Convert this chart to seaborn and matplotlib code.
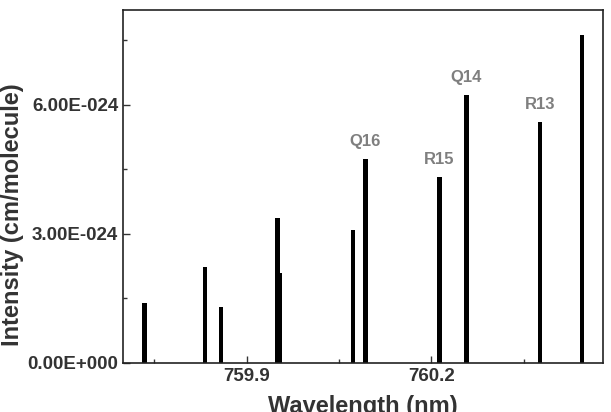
import numpy as np
import pandas as pd
import matplotlib
matplotlib.use("Agg")
import matplotlib.pyplot as plt
from matplotlib.ticker import FuncFormatter, MultipleLocator
import seaborn as sns

# ──────────────────────────────
# Data
# ──────────────────────────────
wavelength = [759.734, 759.832, 759.858, 759.950, 759.954, 760.073,
              760.093, 760.213, 760.257, 760.377, 760.445]
intensity = [1.40e-24, 2.23e-24, 1.30e-24, 3.37e-24, 2.09e-24, 3.09e-24,
             4.74e-24, 4.33e-24, 6.23e-24, 5.61e-24, 7.63e-24]
line_labels = ["", "", "", "", "", "", "Q16", "R15", "Q14", "R13", ""]

df = pd.DataFrame({"wavelength": wavelength, "intensity": intensity,
                   "label": line_labels})

sns.set_theme(style="ticks")
plt.rcParams["font.family"] = ["Liberation Sans", "DejaVu Sans"]
plt.rcParams["font.weight"] = "bold"

fig = plt.figure(figsize=(6.11, 4.12), dpi=100)
ax = fig.add_axes([0.2013, 0.119, 0.7857, 0.857])

# bar width ~ 4.5 px, relative to the smallest gap between lines
min_gap = np.min(np.diff(np.sort(df["wavelength"].values)))
sns.barplot(data=df, x="wavelength", y="intensity", native_scale=True,
            color="black", errorbar=None, width=0.0072 / min_gap,
            linewidth=0, saturation=1, ax=ax)

for _, row in df.iterrows():
    if row["label"]:
        ax.annotate(row["label"], (row["wavelength"], row["intensity"]),
                    xytext=(0, 7), textcoords="offset points",
                    ha="center", va="bottom", fontsize=12,
                    fontweight="bold", color="#7f7f7f")

ax.set_xlim(759.699, 760.479)
ax.set_ylim(0, 8.21e-24)

ax.xaxis.set_major_locator(MultipleLocator(0.3))
ax.xaxis.set_minor_locator(MultipleLocator(0.15))
ax.xaxis.set_major_formatter(FuncFormatter(lambda v, p: f"{v:.1f}"))
ax.yaxis.set_major_locator(MultipleLocator(3e-24))
ax.yaxis.set_minor_locator(MultipleLocator(1.5e-24))


def sci_fmt(v, pos):
    if v == 0:
        return "0.00E+000"
    exp = int(np.floor(np.log10(abs(v))))
    mant = v / 10 ** exp
    sign = "-" if exp < 0 else "+"
    return f"{mant:.2f}E{sign}{abs(exp):03d}"


ax.yaxis.set_major_formatter(FuncFormatter(sci_fmt))

ax.tick_params(which="both", direction="in", color="#333333", width=1.0,
               labelsize=13.5, labelcolor="#333333")
ax.tick_params(which="major", length=5)
ax.tick_params(which="minor", length=3)
for lab in ax.get_xticklabels() + ax.get_yticklabels():
    lab.set_fontweight("bold")

for sp in ax.spines.values():
    sp.set_visible(True)
    sp.set_color("#222222")
    sp.set_linewidth(1.2)

ax.set_xlabel("Wavelength (nm)", fontsize=17, fontweight="bold",
              color="#333333", labelpad=7)
ax.set_ylabel("Intensity (cm/molecule)", fontsize=17, fontweight="bold",
              color="#333333")
# the y label sits a little below the axes centre in the reference
ax.yaxis.set_label_coords(-0.207, 0.42)

fig.savefig("out.png", dpi=100)
plt.close(fig)
